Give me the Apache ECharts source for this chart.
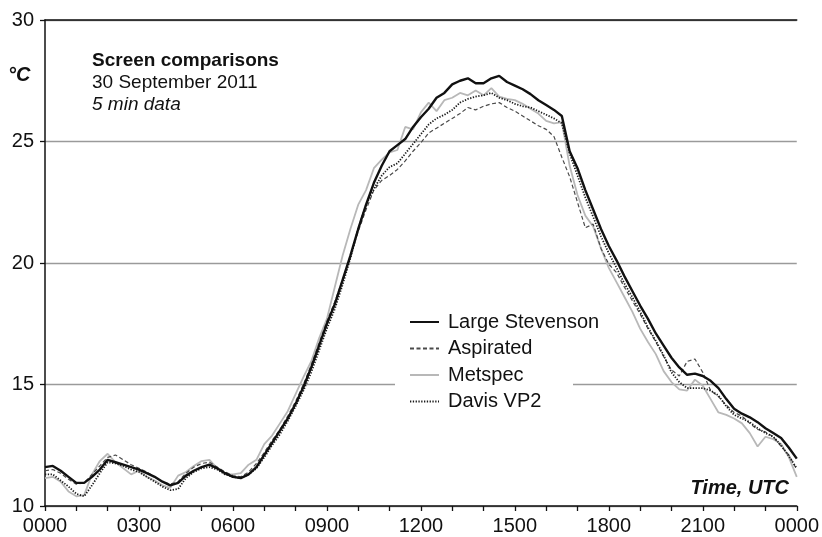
<!DOCTYPE html>
<html>
<head>
<meta charset="utf-8">
<script src="https://cdn.jsdelivr.net/npm/echarts@6/dist/echarts.min.js"></script>
<style>
  html, body { margin: 0; padding: 0; background: #fff; }
  #chart { width: 822px; height: 537px; }
</style>
</head>
<body>
<div id="chart"></div>
<script>
// Readings every 15 minutes, 0000 to 0000 UTC (97 samples per screen), °C
const stepHours = 0.25;
const tickLabels = ['0000', '0300', '0600', '0900', '1200', '1500', '1800', '2100', '0000'];
const yTicks = [10, 15, 20, 25, 30];

const largeStevenson = [
  11.6, 11.65, 11.45, 11.2, 10.95, 10.95, 11.2, 11.5, 11.9, 11.8,
  11.7, 11.6, 11.5, 11.35, 11.2, 11.0, 10.85, 10.95, 11.25, 11.45,
  11.6, 11.7, 11.55, 11.35, 11.2, 11.15, 11.3, 11.6, 12.1, 12.6,
  13.1, 13.6, 14.2, 14.9, 15.7, 16.6, 17.5, 18.3, 19.3, 20.3,
  21.4, 22.4, 23.3, 24.0, 24.6, 24.85, 25.1, 25.6, 26.0, 26.35,
  26.8, 27.0, 27.35, 27.5, 27.6, 27.4, 27.4, 27.6, 27.7, 27.45,
  27.3, 27.15, 26.95, 26.7, 26.5, 26.3, 26.05, 24.6, 23.9, 23.0,
  22.2, 21.4, 20.7, 20.1, 19.45, 18.85, 18.25, 17.7, 17.1, 16.6,
  16.1, 15.7, 15.4, 15.45, 15.35, 15.15, 14.85, 14.4, 14.0, 13.8,
  13.65, 13.45, 13.2, 13.0, 12.8, 12.4, 11.95
];

const aspirated = [
  11.45, 11.5, 11.35, 11.1, 10.9, 10.95, 11.3, 11.65, 12.0, 12.1,
  11.9, 11.7, 11.55, 11.4, 11.2, 11.0, 10.9, 11.0, 11.35, 11.6,
  11.75, 11.8, 11.6, 11.4, 11.25, 11.2, 11.4, 11.75, 12.2, 12.7,
  13.15, 13.7, 14.3, 15.0, 15.8, 16.7, 17.6, 18.4, 19.3, 20.3,
  21.3, 22.2, 23.0, 23.4, 23.6, 23.85, 24.2, 24.6, 24.95, 25.35,
  25.55, 25.75, 25.95, 26.15, 26.4, 26.3, 26.45, 26.55, 26.6, 26.4,
  26.25, 26.05, 25.85, 25.65, 25.5, 25.2, 24.35, 23.55, 22.5, 21.45,
  21.6, 20.6, 19.95, 19.6, 19.0, 18.45, 17.9, 17.3, 16.75, 16.15,
  15.6, 15.35, 15.95, 16.05, 15.5, 14.75, 14.5, 14.15, 13.85, 13.7,
  13.4, 13.15, 13.05, 12.85, 12.45, 12.1, 11.5
];

const metspec = [
  11.15, 11.2, 11.0, 10.6, 10.4, 10.45, 11.3, 11.85, 12.15, 11.8,
  11.55, 11.3, 11.45, 11.2, 11.05, 10.85, 10.75, 11.25, 11.4, 11.65,
  11.85, 11.9, 11.55, 11.3, 11.3, 11.35, 11.7, 11.9, 12.55, 12.9,
  13.4, 13.9, 14.6, 15.3, 15.95, 16.9, 17.7, 19.0, 20.3, 21.4,
  22.4, 23.0, 23.9, 24.25, 24.55, 24.65, 25.6, 25.5, 26.2, 26.6,
  26.25, 26.7, 26.8, 27.0, 26.9, 27.1, 26.9, 27.2, 26.85, 26.75,
  26.7, 26.55, 26.35, 26.15, 25.85, 25.75, 25.8, 24.0, 22.8, 21.95,
  21.5, 20.6, 19.8, 19.2, 18.6, 18.0, 17.3, 16.75, 16.25, 15.55,
  15.1, 14.8, 14.75, 15.2, 14.95, 14.4, 13.85, 13.75, 13.6, 13.4,
  13.0, 12.45, 12.85, 12.75, 12.55, 12.0, 11.2
];

const davisVP2 = [
  11.3, 11.3, 11.05, 10.8, 10.5, 10.4, 10.85, 11.35, 11.8, 11.75,
  11.65, 11.5, 11.4, 11.2, 11.0, 10.8, 10.65, 10.7, 11.15, 11.4,
  11.55, 11.6, 11.5, 11.3, 11.2, 11.15, 11.3, 11.55, 12.0, 12.5,
  12.95, 13.5, 14.1, 14.75, 15.5, 16.4, 17.3, 18.1, 19.1, 20.2,
  21.4, 22.4, 23.05, 23.6, 23.95, 24.1, 24.5, 24.9, 25.3, 25.7,
  25.95, 26.1, 26.3, 26.6, 26.75, 26.85, 26.9, 27.0, 26.8, 26.7,
  26.55, 26.45, 26.4, 26.25, 26.1, 25.95, 25.75, 24.5, 23.6, 22.7,
  21.9, 21.1, 20.4, 19.8, 19.15, 18.6, 18.0, 17.35, 16.8, 16.2,
  15.5, 15.1, 14.85, 14.85, 14.85, 14.75, 14.55, 14.1, 13.75, 13.6,
  13.45, 13.2, 13.0, 12.85, 12.5, 12.05, 11.55
];

const FONT = '"Liberation Sans", Arial, Helvetica, sans-serif';

// pair each reading with its hour of day
function toPoints(values) {
  return values.map((v, i) => [i * stepHours, v]);
}

function lineSeries(name, values, lineStyle, z) {
  return {
    name: name,
    type: 'line',
    data: toPoints(values),
    symbol: 'none',
    showSymbol: false,
    smooth: false,
    lineStyle: lineStyle,
    itemStyle: { color: lineStyle.color },
    z: z,
    emphasis: { disabled: true },
    animation: false
  };
}

const chart = echarts.init(document.getElementById('chart'), null, { renderer: 'canvas' });

chart.setOption({
  backgroundColor: '#fff',
  animation: false,
  grid: { left: 45, right: 24, top: 20, bottom: 31, containLabel: false },
  xAxis: [{
    type: 'value',
    min: 0,
    max: 24,
    interval: 3,
    axisLine: { show: true, lineStyle: { color: '#111', width: 1.5 } },
    axisTick: { show: true, length: 5, lineStyle: { color: '#111', width: 1.3 } },
    minorTick: { show: true, splitNumber: 3, length: 5, lineStyle: { color: '#111', width: 1.3 } },
    splitLine: { show: false },
    minorSplitLine: { show: false },
    axisLabel: {
      margin: 10,
      fontFamily: FONT,
      fontSize: 20,
      color: '#111',
      formatter: function (v) { return tickLabels[Math.round(v / 3)]; }
    }
  }, {
    // upper frame line at 30 °C
    type: 'value',
    position: 'top',
    min: 0,
    max: 24,
    axisLine: { show: true, lineStyle: { color: '#111', width: 1.5 } },
    axisTick: { show: false },
    axisLabel: { show: false },
    splitLine: { show: false }
  }],
  yAxis: {
    type: 'value',
    min: yTicks[0],
    max: yTicks[yTicks.length - 1],
    interval: 5,
    axisLine: { show: true, lineStyle: { color: '#111', width: 1.5 } },
    axisTick: { show: true, length: 5, lineStyle: { color: '#111', width: 1.3 } },
    splitLine: { show: true, lineStyle: { color: '#9a9a9a', width: 1.3 } },
    axisLabel: {
      margin: 11,
      fontFamily: FONT,
      fontSize: 20,
      color: '#111'
    }
  },
  legend: {
    orient: 'vertical',
    left: 409,
    top: 312,
    padding: 0,
    itemWidth: 29,
    itemHeight: 14,
    itemGap: 6.5,
    itemStyle: { opacity: 0 },
    data: ['Large Stevenson', 'Aspirated', 'Metspec', 'Davis VP2'],
    textStyle: {
      fontFamily: FONT,
      fontSize: 20,
      lineHeight: 20,
      color: '#111',
      padding: [0, 0, 0, 4]
    },
    z: 6
  },
  graphic: [
    // legend backing panel hiding the 15 °C gridline
    { type: 'rect', z: 1, shape: { x: 395, y: 305, width: 178, height: 113 }, style: { fill: '#fff' } },
    { type: 'text', z: 10, x: 92, y: 61, style: { text: 'Screen comparisons', font: 'bold 19px ' + FONT, fill: '#111', verticalAlign: 'middle' } },
    { type: 'text', z: 10, x: 92, y: 83, style: { text: '30 September 2011', font: '19px ' + FONT, fill: '#111', verticalAlign: 'middle' } },
    { type: 'text', z: 10, x: 92, y: 105, style: { text: '5 min data', font: 'italic 19px ' + FONT, fill: '#111', verticalAlign: 'middle' } },
    { type: 'text', z: 10, x: 8, y: 75, style: { text: '°C', font: 'italic bold 20px ' + FONT, fill: '#111', verticalAlign: 'middle' } },
    { type: 'text', z: 10, x: 789, y: 488, style: { text: 'Time, UTC', font: 'italic bold 20px ' + FONT, fill: '#111', align: 'right', verticalAlign: 'middle' } }
  ],
  series: [
    lineSeries('Metspec', metspec, { color: '#b8b8b8', width: 1.8, type: 'solid' }, 2),
    lineSeries('Aspirated', aspirated, { color: '#4a4a4a', width: 1.2, type: [4, 2.5] }, 3),
    lineSeries('Davis VP2', davisVP2, { color: '#1a1a1a', width: 1.8, type: [1.3, 1.5] }, 4),
    lineSeries('Large Stevenson', largeStevenson, { color: '#111', width: 2.4, type: 'solid' }, 5)
  ]
});
</script>
</body>
</html>
